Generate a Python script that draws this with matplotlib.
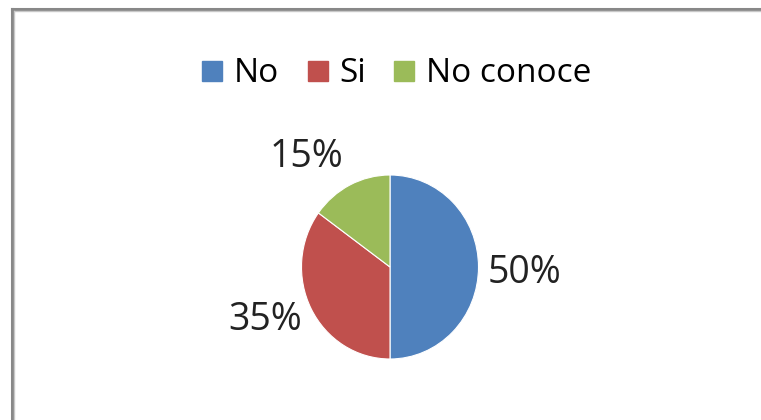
import matplotlib.pyplot as plt
from matplotlib.lines import Line2D

# Survey answers
categories = ['No', 'Si', 'No conoce']
shares = [50, 35, 15]
colors = ['#4F81BD', '#C0504D', '#9BBB59']

plt.rcParams['font.family'] = ['Open Sans', 'DejaVu Sans']

fig = plt.figure(figsize=(7.61, 4.20), dpi=100)
W, H = 761, 420

# Chart frame (top and left edges)
fig.add_artist(Line2D([11.5 / W, 1], [1 - 8.5 / H, 1 - 8.5 / H], color='#888888', lw=2.2))
fig.add_artist(Line2D([11.5 / W, 1], [1 - 11 / H, 1 - 11 / H], color='#c8c8c8', lw=1.0))
fig.add_artist(Line2D([11.5 / W, 11.5 / W], [0, 1 - 8.5 / H], color='#888888', lw=2.2))
fig.add_artist(Line2D([14 / W, 14 / W], [0, 1 - 11 / H], color='#c8c8c8', lw=1.0))

# Pie area
ax = fig.add_axes([301.5 / W, 61 / H, 177 / W, 184 / H])
wedges, texts, autotexts = ax.pie(
    shares, colors=colors, startangle=90, counterclock=False,
    autopct='%d%%', pctdistance=1.52,
    wedgeprops=dict(edgecolor='white', linewidth=0.8),
    textprops=dict(fontsize=27, color='#222222'))
ax.set_aspect('auto')
ax.set_xlim(-1, 1)
ax.set_ylim(-1, 1)

# Small slice label sits above the pie
autotexts[0].set_position((1.52, -0.06))
autotexts[2].set_position((-0.94, 1.20))
autotexts[1].set_position((-1.41, -0.58))

handles = [Line2D([], [], marker='s', linestyle='', markersize=15,
                  markerfacecolor=c, markeredgecolor=c) for c in colors]
fig.legend(handles, categories, loc='center', bbox_to_anchor=(396 / W, 1 - 74 / H),
           ncol=3, frameon=False, fontsize=24, handlelength=0.7,
           handletextpad=0.3, columnspacing=0.8, borderaxespad=0)

fig.savefig('out.png', dpi=100)
